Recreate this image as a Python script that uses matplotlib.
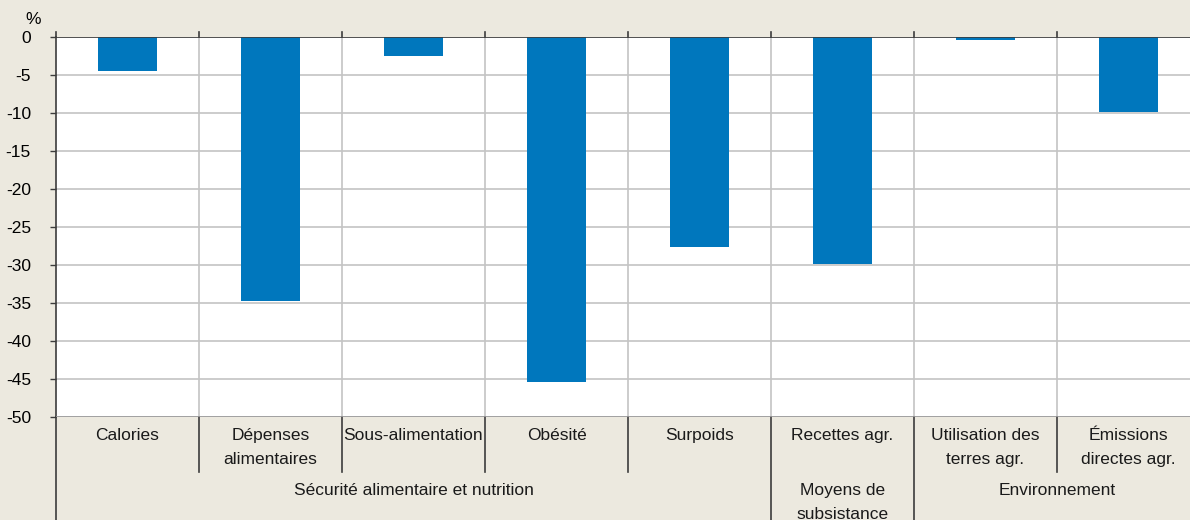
import matplotlib.pyplot as plt
import numpy as np

plt.rcParams['font.family'] = ['Liberation Sans', 'DejaVu Sans']

categories = ["Calories", "Dépenses\nalimentaires", "Sous-alimentation", "Obésité",
              "Surpoids", "Recettes agr.", "Utilisation des\nterres agr.", "Émissions\ndirectes agr."]
values = [-4.5, -34.7, -2.5, -45.4, -27.6, -29.9, -0.4, -9.9]
groups = ["Sécurité alimentaire et nutrition", "Moyens de\nsubsistance", "Environnement"]
group_spans = [(0, 5), (5, 6), (6, 8)]

bg = '#ECE9DF'
bar_color = '#0077BD'
grid_color = '#C4C4C4'
line_color = '#3C3C3C'

fig = plt.figure(figsize=(11.9, 5.2), dpi=100, facecolor=bg)
W, H = 1190, 520
ax = fig.add_axes([56 / W, (H - 417) / H, 1144 / W, 380 / H])
ax.set_facecolor('white')

x = np.arange(len(categories)) + 0.5
ax.bar(x, values, width=0.41, color=bar_color, zorder=3)

ax.set_xlim(0, len(categories))
ax.set_ylim(-50, 0)
ax.set_yticks(np.arange(-50, 1, 5))
ax.set_yticklabels([str(v) for v in range(-50, 1, 5)], fontsize=12.5)
ax.tick_params(axis='y', length=4, width=1, color=line_color, pad=14)
ax.set_xticks([])
for s in ['top', 'right', 'bottom']:
    ax.spines[s].set_visible(False)
ax.spines['left'].set_color(line_color)
ax.spines['left'].set_linewidth(1.2)

ax.grid(axis='y', color=grid_color, linewidth=1.2, zorder=1)
for b in range(1, len(categories)):
    ax.axvline(b, color=grid_color, linewidth=1.2, zorder=1)
ax.axhline(0, color=line_color, linewidth=1.2, zorder=4)
ax.axhline(-50, color='#9A9A9A', linewidth=1.2, zorder=4)

# small tick marks above the zero line at category boundaries
for b in range(0, len(categories) + 1):
    ax.plot([b, b], [0, 0.6], color=line_color, lw=1.2, clip_on=False)

# category labels and separators below the plot
for i, lab in enumerate(categories):
    ax.text(i + 0.5, -51.5, lab, ha='center', va='top', fontsize=12.5,
            color='#1a1a1a', linespacing=1.75)
group_edges = {s for s, e in group_spans} | {e for s, e in group_spans}
for b in range(0, len(categories) + 1):
    if b in group_edges:
        ax.plot([b, b], [-50, -63.8], color=line_color, lw=1.2, clip_on=False)
    else:
        ax.plot([b, b], [-50, -57.2], color=line_color, lw=1.2, clip_on=False)

for (s, e), g in zip(group_spans, groups):
    ax.text((s + e) / 2, -58.7, g, ha='center', va='top', fontsize=12.5,
            color='#1a1a1a', linespacing=1.75)

fig.text(33 / W, 1 - 20 / H, '%', ha='center', va='center', fontsize=12.5)

fig.savefig('out.png', dpi=100, facecolor=bg)
